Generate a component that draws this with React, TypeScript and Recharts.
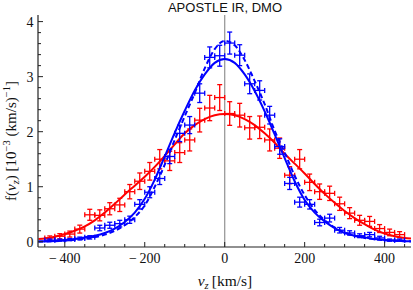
import React from "react";
import {
  ComposedChart,
  Line,
  Scatter,
  ErrorBar,
  XAxis,
  YAxis,
  ReferenceLine,
} from "recharts";

// histogram bin centres [km/s]
const BIN_CENTERS = [
  -437.5, -412.5, -387.5, -362.5, -337.5, -312.5, -287.5, -262.5, -237.5,
  -212.5, -187.5, -162.5, -137.5, -112.5, -87.5, -62.5, -37.5, -12.5, 12.5,
  37.5, 62.5, 87.5, 112.5, 137.5, 162.5, 187.5, 212.5, 237.5, 262.5, 287.5,
  312.5, 337.5, 362.5, 387.5, 412.5, 437.5,
];
const BIN_HALF_WIDTH = 12.5;

const RED_F = [
  0.07, 0.1, 0.14, 0.23, 0.49, 0.48, 0.6, 0.67, 0.91, 1.1, 1.28, 1.5, 1.47,
  1.62, 1.85, 2.21, 2.43, 2.62, 2.33, 2.3, 2.07, 2.08, 1.85, 1.7, 1.21, 1.5,
  1.08, 0.91, 0.88, 0.69, 0.52, 0.39, 0.37, 0.24, 0.17, 0.13,
];
const RED_ERR = [
  0.036, 0.048, 0.054, 0.072, 0.1, 0.1, 0.11, 0.12, 0.13, 0.15, 0.16, 0.175,
  0.175, 0.18, 0.2, 0.215, 0.23, 0.235, 0.215, 0.215, 0.205, 0.205, 0.2, 0.185,
  0.155, 0.175, 0.15, 0.14, 0.13, 0.12, 0.1, 0.09, 0.09, 0.072, 0.06, 0.054,
];
const BLUE_F = [
  0.03, 0.03, 0.04, 0.06, 0.08, 0.25, 0.3, 0.33, 0.4, 0.68, 0.9, 1.15, 1.55,
  1.97, 2.12, 2.7, 3.35, 3.38, 3.61, 3.39, 2.87, 2.75, 2.3, 1.73, 1.06, 0.72,
  0.68, 0.35, 0.43, 0.21, 0.16, 0.11, 0.13, 0.07, 0.03, 0.03,
];
const BLUE_ERR = [
  0.02, 0.02, 0.02, 0.025, 0.03, 0.05, 0.055, 0.06, 0.065, 0.085, 0.1, 0.11,
  0.13, 0.15, 0.155, 0.17, 0.19, 0.19, 0.2, 0.19, 0.18, 0.175, 0.16, 0.14,
  0.11, 0.09, 0.085, 0.06, 0.07, 0.05, 0.04, 0.035, 0.04, 0.03, 0.02, 0.02,
];

const CURVE_V = [
  -466, -450, -425, -400, -375, -350, -325, -300, -275, -250, -225, -200, -175,
  -150, -125, -100, -75, -50, -25, 0, 25, 50, 75, 100, 125, 150, 175, 200, 225,
  250, 275, 300, 325, 350, 375, 400, 425, 450, 466,
];
const RED_FIT = [
  0.05, 0.06, 0.09, 0.14, 0.2, 0.28, 0.39, 0.53, 0.69, 0.86, 1.02, 1.18, 1.36,
  1.56, 1.77, 1.97, 2.12, 2.23, 2.3, 2.32, 2.3, 2.23, 2.12, 1.97, 1.8, 1.6,
  1.42, 1.24, 1.05, 0.87, 0.71, 0.56, 0.43, 0.32, 0.22, 0.15, 0.1, 0.07, 0.06,
];
const BLUE_FIT = [
  0.005, 0.008, 0.015, 0.03, 0.05, 0.08, 0.11, 0.16, 0.24, 0.36, 0.53, 0.78,
  1.13, 1.55, 1.98, 2.38, 2.75, 3.04, 3.25, 3.32, 3.25, 3.04, 2.74, 2.37, 1.95,
  1.52, 1.1, 0.76, 0.53, 0.37, 0.25, 0.16, 0.11, 0.08, 0.05, 0.03, 0.02, 0.01,
  0.008,
];
const BLUE_ALT = [
  0.003, 0.005, 0.01, 0.02, 0.035, 0.055, 0.085, 0.13, 0.2, 0.3, 0.45, 0.66,
  1.0, 1.4, 1.85, 2.28, 2.7, 3.15, 3.5, 3.65, 3.57, 3.3, 2.92, 2.5, 2.02, 1.62,
  1.2, 0.85, 0.58, 0.39, 0.26, 0.17, 0.11, 0.07, 0.045, 0.03, 0.018, 0.01,
  0.007,
];

const X_TICKS = [
  -450, -400, -350, -300, -250, -200, -150, -100, -50, 0, 50, 100, 150, 200,
  250, 300, 350, 400, 450,
];
const Y_TICKS = [
  0, 0.2, 0.4, 0.6, 0.8, 1, 1.2, 1.4, 1.6, 1.8, 2, 2.2, 2.4, 2.6, 2.8, 3, 3.2,
  3.4, 3.6, 3.8, 4,
];

const RED = "#ff0000";
const BLUE = "#0000ff";
const FRAME = "#222";
const SERIF = '"Liberation Serif", "Times New Roman", serif';
const SANS = '"Liberation Sans", Arial, sans-serif';

const toPoints = (f: number[], err: number[]) =>
  BIN_CENTERS.map((v, i) => ({ v, f: f[i], err: err[i], xerr: BIN_HALF_WIDTH }));
const toCurve = (f: number[]) => CURVE_V.map((v, i) => ({ v, f: f[i] }));

const redPoints = toPoints(RED_F, RED_ERR);
const bluePoints = toPoints(BLUE_F, BLUE_ERR);

const isMajorX = (v: number) => v % 200 === 0;
const isMajorY = (v: number) => Math.abs(v - Math.round(v)) < 1e-6;
const fmt = (v: number) => (v < 0 ? `\u2212\u2009${Math.abs(v)}` : `${v}`);

const BottomTick = ({ x, y, payload }: any) => {
  const major = isMajorX(payload.value);
  return (
    <g>
      <line x1={x} x2={x} y1={y} y2={y - (major ? 5 : 3)} stroke={FRAME} />
      {major && (
        <text x={x} y={y + 16} textAnchor="middle" fontFamily={SERIF} fontSize={14} fill="#111">
          {fmt(payload.value)}
        </text>
      )}
    </g>
  );
};

const TopTick = ({ x, y, payload }: any) => {
  const major = isMajorX(payload.value);
  return <line x1={x} x2={x} y1={y} y2={y + (major ? 5 : 3)} stroke={FRAME} />;
};

const LeftTick = ({ x, y, payload }: any) => {
  const major = isMajorY(payload.value);
  return (
    <g>
      <line x1={x} x2={x + (major ? 5 : 3)} y1={y} y2={y} stroke={FRAME} />
      {major && (
        <text x={x - 4.5} y={y + 5} textAnchor="end" fontFamily={SERIF} fontSize={14} fill="#111">
          {payload.value}
        </text>
      )}
    </g>
  );
};

const RightTick = ({ x, y, payload }: any) => {
  const major = isMajorY(payload.value);
  return <line x1={x} x2={x - (major ? 5 : 3)} y1={y} y2={y} stroke={FRAME} />;
};

const NoMarker = () => <g />;

export default function App() {
  const axisLine = { stroke: FRAME, strokeWidth: 1.2 };
  const capHalf = 2.5;
  return (
    <div style={{ position: "absolute", left: 0, top: 0, width: 413, height: 290, background: "#fff" }}>
      <ComposedChart width={413} height={290} margin={{ top: 15, right: 2, bottom: 0, left: 0 }}>
        <XAxis
          xAxisId="b"
          type="number"
          dataKey="v"
          domain={[-467, 466]}
          ticks={X_TICKS}
          interval={0}
          tick={<BottomTick />}
          tickLine={false}
          tickSize={0}
          tickMargin={0}
          height={43}
          axisLine={axisLine}
          allowDataOverflow
        />
        <XAxis
          xAxisId="t"
          orientation="top"
          type="number"
          dataKey="v"
          domain={[-467, 466]}
          ticks={X_TICKS}
          interval={0}
          tick={<TopTick />}
          tickLine={false}
          tickSize={0}
          tickMargin={0}
          height={0}
          axisLine={axisLine}
          allowDataOverflow
        />
        <YAxis
          yAxisId="l"
          type="number"
          dataKey="f"
          domain={[-0.095, 4.12]}
          ticks={Y_TICKS}
          interval={0}
          tick={<LeftTick />}
          tickLine={false}
          tickSize={0}
          tickMargin={0}
          width={38}
          axisLine={axisLine}
          allowDataOverflow
        />
        <YAxis
          yAxisId="r"
          orientation="right"
          type="number"
          dataKey="f"
          domain={[-0.095, 4.12]}
          ticks={Y_TICKS}
          interval={0}
          tick={<RightTick />}
          tickLine={false}
          tickSize={0}
          tickMargin={0}
          width={0}
          axisLine={axisLine}
          allowDataOverflow
        />
        <ReferenceLine xAxisId="b" yAxisId="l" x={0} stroke="#9a9a9a" strokeWidth={1.3} />

        <Scatter xAxisId="b" yAxisId="l" data={redPoints} dataKey="f" shape={<NoMarker />} isAnimationActive={false}>
          <ErrorBar dataKey="err" direction="y" width={capHalf} stroke={RED} strokeWidth={1.3} isAnimationActive={false} />
          <ErrorBar dataKey="xerr" direction="x" width={capHalf} stroke={RED} strokeWidth={1.3} isAnimationActive={false} />
        </Scatter>
        <Line
          xAxisId="b"
          yAxisId="l"
          data={toCurve(RED_FIT)}
          dataKey="f"
          type="monotone"
          stroke={RED}
          strokeWidth={2}
          dot={false}
          isAnimationActive={false}
        />
        <Scatter xAxisId="b" yAxisId="l" data={bluePoints} dataKey="f" shape={<NoMarker />} isAnimationActive={false}>
          <ErrorBar dataKey="err" direction="y" width={capHalf} stroke={BLUE} strokeWidth={1.3} isAnimationActive={false} />
          <ErrorBar dataKey="xerr" direction="x" width={capHalf} stroke={BLUE} strokeWidth={1.3} isAnimationActive={false} />
        </Scatter>
        <Line
          xAxisId="b"
          yAxisId="l"
          data={toCurve(BLUE_ALT)}
          dataKey="f"
          type="monotone"
          stroke={BLUE}
          strokeWidth={2}
          strokeDasharray="5 3"
          dot={false}
          isAnimationActive={false}
        />
        <Line
          xAxisId="b"
          yAxisId="l"
          data={toCurve(BLUE_FIT)}
          dataKey="f"
          type="monotone"
          stroke={BLUE}
          strokeWidth={2}
          dot={false}
          isAnimationActive={false}
        />
      </ComposedChart>

      <svg width={413} height={290} style={{ position: "absolute", left: 0, top: 0, pointerEvents: "none" }}>
        <text x={225} y={11.5} textAnchor="middle" fontFamily={SANS} fontSize={13} fill="#111">
          APOSTLE IR, DMO
        </text>
        <text x={225} y={286} textAnchor="middle" fontFamily={SERIF} fontSize={15.5} fill="#111">
          <tspan fontStyle="italic">v</tspan>
          <tspan fontStyle="italic" fontSize={10.5} dy={3}>z</tspan>
          <tspan dy={-3}>{"\u2009[km/s]"}</tspan>
        </text>
        <text
          transform="translate(16,141) rotate(-90)"
          textAnchor="middle"
          fontFamily={SERIF}
          fontSize={15}
          fill="#111"
        >
          <tspan>f(</tspan>
          <tspan fontStyle="italic">v</tspan>
          <tspan fontStyle="italic" fontSize={10.5} dy={3}>z</tspan>
          <tspan dy={-3}>) [10</tspan>
          <tspan fontSize={10.5} dy={-6}>{"\u22123"}</tspan>
          <tspan dy={6}> (km/s)</tspan>
          <tspan fontSize={10.5} dy={-6}>{"\u22121"}</tspan>
          <tspan dy={6}>]</tspan>
        </text>
      </svg>
    </div>
  );
}
